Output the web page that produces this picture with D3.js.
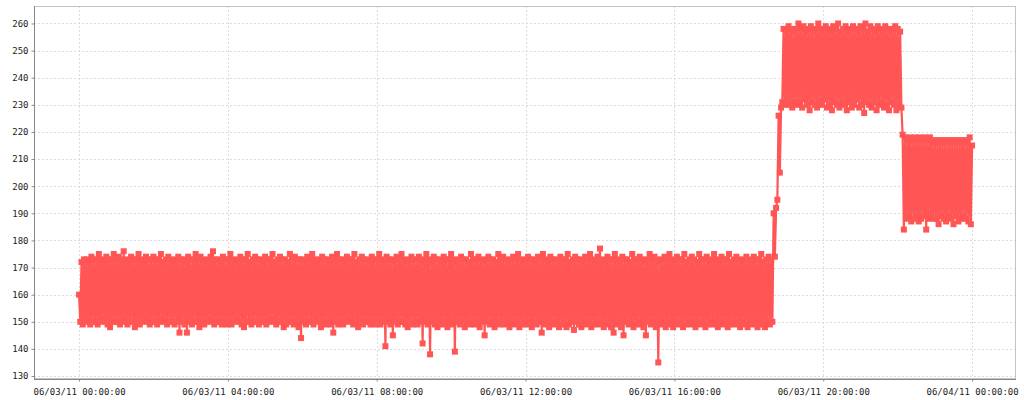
<!DOCTYPE html>
<html><head><meta charset="utf-8">
<script src="https://cdn.jsdelivr.net/npm/d3@7"></script>
<style>html,body{margin:0;padding:0;background:#fff;} svg{display:block;}</style>
</head><body><svg id="chart" width="1024" height="400"></svg>
<script>
// sampling: one reading every 2 minutes from 06/03/11 00:00:00
const startTime = new Date(2011, 5, 3, 0, 0, 0);
const stepMinutes = 2;

// 00:00 - 18:38
const lowBand = [
160,150,172,149,173,150,173,151,172,149,174,150,173,150,173,149,175,150,173,151,172,150,174,149,173,148,173,150,175,150,
173,150,174,149,173,151,176,150,173,149,172,150,174,150,173,148,173,150,175,149,173,150,172,151,174,150,173,149,173,150,
174,150,173,149,173,150,175,151,172,150,173,149,174,150,173,150,172,149,173,150,174,146,173,150,173,149,172,146,174,150,
173,149,173,150,175,150,173,148,174,150,173,149,172,150,173,151,174,150,176,149,173,150,173,150,172,149,174,150,173,149,
173,150,175,149,173,150,172,151,173,150,174,149,173,148,173,150,175,150,172,149,173,150,174,150,173,149,173,150,172,150,
174,149,173,150,173,151,175,150,172,149,173,150,174,150,173,148,173,149,172,150,175,150,173,149,174,150,173,148,173,144,
173,150,172,149,174,150,173,150,175,149,173,151,172,150,173,148,174,150,173,149,173,150,172,149,174,146,173,150,175,149,
173,150,173,149,172,150,174,151,173,150,173,149,175,150,172,148,173,150,174,149,173,150,173,150,172,149,174,150,173,149,
173,150,175,149,173,150,172,141,174,150,173,149,173,145,172,150,174,149,173,150,175,150,173,149,172,148,173,150,174,149,
173,150,173,149,174,150,172,142,173,150,175,149,173,138,172,150,174,149,173,148,173,150,172,149,174,150,173,148,173,150,
175,149,173,139,172,150,173,149,174,150,173,148,173,150,172,149,175,150,173,149,173,150,174,148,173,150,172,145,173,150,
174,149,173,150,173,148,172,150,175,149,173,150,174,149,173,150,172,148,173,150,174,149,173,150,175,148,173,149,172,150,
173,149,174,150,173,148,173,150,172,149,174,150,173,146,175,149,173,150,172,148,174,150,173,149,173,150,172,148,174,149,
173,150,173,148,175,149,172,150,173,147,174,150,173,149,173,148,172,150,174,149,173,150,175,148,173,149,172,150,174,149,
177,150,173,148,172,149,174,150,173,148,173,146,175,149,173,150,172,148,174,145,173,150,173,149,172,150,175,148,173,149,
173,150,174,149,173,148,172,145,173,150,175,149,173,150,174,148,173,135,172,149,173,150,174,148,173,149,175,150,173,148,
172,150,174,149,173,150,173,148,175,149,172,150,173,149,174,150,173,148,172,150,175,149,173,150,173,148,174,149,172,150,
173,149,175,150,173,148,172,150,174,149,173,150,173,148,175,149,172,150,173,149,174,150,173,148,172,150,173,149,174,148,
173,150,172,149,174,150,173,148,173,150,175,149,172,148,173,150,174,149,173,150
];
// 18:40 - 18:50
const rise = [190,174,192,195,226,205];
// 18:52 - 22:06
const upperBand = [
229,231,258,230,257,232,259,230,258,229,257,231,258,230,260,231,258,229,259,232,257,230,258,228,259,231,257,230,258,229,
260,231,258,230,257,232,259,229,258,230,257,228,259,231,258,230,260,229,257,231,258,230,259,228,257,231,258,229,259,230,
258,232,257,229,259,230,258,227,260,231,257,230,259,229,258,231,257,228,259,230,258,231,257,229,259,230,258,228,
257,231,258,230,259,228,258,230,257,229
];
// 22:08 - 24:00
const lowerBand = [
219,184,218,188,217,189,218,187,217,188,218,189,217,187,218,188,217,189,218,184,
217,188,218,189,216,188,217,188,216,186,217,189,216,188,217,187,216,189,217,188,
216,186,217,189,216,187,217,188,216,189,217,188,216,187,218,186,215
];

const yTicks = [130,140,150,160,170,180,190,200,210,220,230,240,250,260];
const xTickHours = [0,4,8,12,16,20,24];

const values = lowBand.concat(rise, upperBand, lowerBand);
const data = values.map((v, i) => ({ t: new Date(startTime.getTime() + i * stepMinutes * 60000), v }));

const L = 34, R = 1016, T = 6, B = 379;
const hr = 3600e3;
const x = d3.scaleTime()
  .domain([new Date(startTime.getTime() - 1.21 * hr), new Date(startTime.getTime() + 25.18 * hr)])
  .range([L, R]);
const y = d3.scaleLinear().domain([128.9, 266.45]).range([B, T]);

const svg = d3.select('#chart');
const FONT = '"DejaVu Sans Mono", monospace';

svg.append('defs').append('clipPath').attr('id', 'clip')
  .append('rect').attr('x', L).attr('y', T).attr('width', R - L).attr('height', B - T);

// grid
const grid = svg.append('g').attr('stroke', '#dcdcdc').attr('stroke-width', 1).attr('stroke-dasharray', '2,2');
grid.selectAll('line.h').data(yTicks).enter().append('line')
  .attr('x1', L).attr('x2', R)
  .attr('y1', d => Math.round(y(d)) + 0.5).attr('y2', d => Math.round(y(d)) + 0.5);
const xTickDates = xTickHours.map(h => new Date(startTime.getTime() + h * hr));
grid.selectAll('line.v').data(xTickDates).enter().append('line')
  .attr('y1', T).attr('y2', B)
  .attr('x1', d => Math.round(x(d)) + 0.5).attr('x2', d => Math.round(x(d)) + 0.5);

// series
const color = '#ff5555';
const plot = svg.append('g').attr('clip-path', 'url(#clip)');
const line = d3.line().x(d => x(d.t)).y(d => y(d.v));
plot.append('path').datum(data)
  .attr('fill', 'none').attr('stroke', color).attr('stroke-width', 2.2)
  .attr('stroke-linejoin', 'miter').attr('d', line);
plot.selectAll('rect.m').data(data).enter().append('rect')
  .attr('x', d => x(d.t) - 3).attr('y', d => y(d.v) - 3)
  .attr('width', 6).attr('height', 6).attr('fill', color);

// outline
svg.append('rect').attr('x', L + 0.5).attr('y', T + 0.5).attr('width', R - L - 1).attr('height', B - T - 1)
  .attr('fill', 'none').attr('stroke', '#c4c4c4').attr('stroke-width', 1);

// axes
const yAxis = d3.axisLeft(y).tickValues(yTicks).tickSize(3).tickPadding(3).tickSizeOuter(0);
const gy = svg.append('g').attr('transform', `translate(${L + 0.5},0)`).call(yAxis);
gy.select('.domain').attr('d', `M0,${T}V${B + 0.5}`).attr('stroke', '#888');
gy.selectAll('.tick line').attr('stroke', '#888');
gy.selectAll('text').attr('font-family', FONT).attr('font-size', 9).attr('fill', '#222');

const fmt = d3.timeFormat('%m/%d/%y %H:%M:%S');
const xAxis = d3.axisBottom(x).tickValues(xTickDates).tickFormat(fmt).tickSize(2).tickSizeOuter(0);
const gx = svg.append('g').attr('transform', `translate(0,${B + 0.5})`).call(xAxis);
gx.select('.domain').attr('d', `M${L},0H${R}`).attr('stroke', '#888');
gx.selectAll('.tick line').attr('stroke', '#888');
gx.selectAll('text').attr('font-family', FONT).attr('font-size', 9).attr('fill', '#222')
  .attr('dy', null).attr('y', 15);
</script>
</body></html>
